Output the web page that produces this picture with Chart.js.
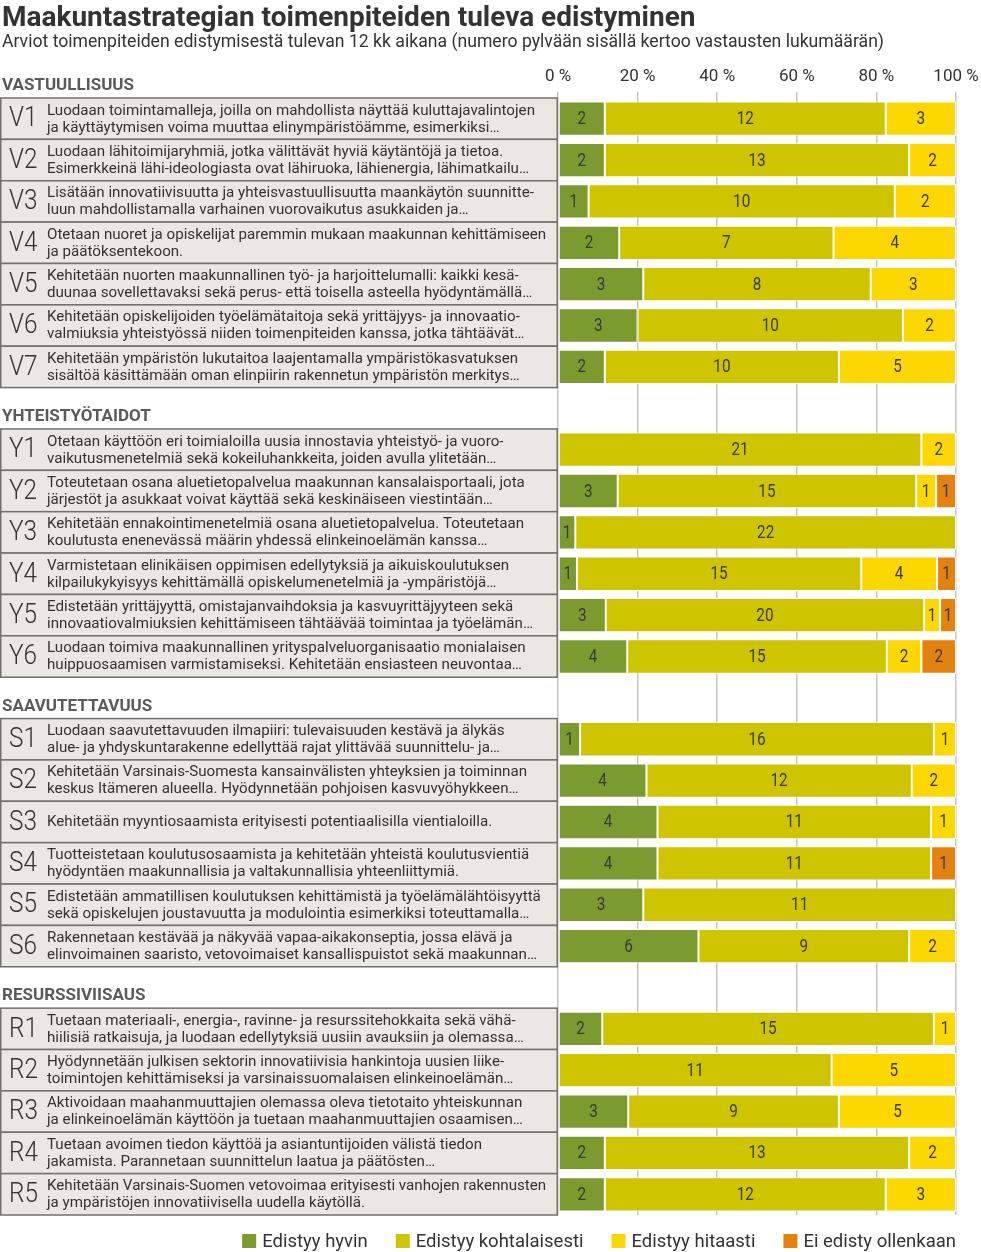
<!DOCTYPE html>
<html lang="fi">
<head>
<meta charset="utf-8">
<title>Maakuntastrategian toimenpiteiden tuleva edistyminen</title>
<script src="https://cdn.jsdelivr.net/npm/chart.js@4/dist/chart.umd.min.js"></script>
<style>
  html, body { margin: 0; padding: 0; background: #fff; }
  #wrap { width: 981px; height: 1252px; position: relative; }
</style>
</head>
<body>
<div id="wrap"><canvas id="chart"></canvas></div>
<script>
// otsikot
const title = 'Maakuntastrategian toimenpiteiden tuleva edistyminen';
const subtitle = 'Arviot toimenpiteiden edistymisestä tulevan 12 kk aikana (numero pylvään sisällä kertoo vastausten lukumäärän)';

// osiot ja niiden rivimäärät
const sections = ['VASTUULLISUUS', 'YHTEISTYÖTAIDOT', 'SAAVUTETTAVUUS', 'RESURSSIVIISAUS'];
const sectionSizes = [7, 6, 6, 5];

const codes = ['V1', 'V2', 'V3', 'V4', 'V5', 'V6', 'V7',
  'Y1', 'Y2', 'Y3', 'Y4', 'Y5', 'Y6',
  'S1', 'S2', 'S3', 'S4', 'S5', 'S6',
  'R1', 'R2', 'R3', 'R4', 'R5'];

const texts = [
  ['Luodaan toimintamalleja, joilla on mahdollista näyttää kuluttajavalintojen', 'ja käyttäytymisen voima muuttaa elinympäristöämme, esimerkiksi…'],
  ['Luodaan lähitoimijaryhmiä, jotka välittävät hyviä käytäntöjä ja tietoa.', 'Esimerkkeinä lähi-ideologiasta ovat lähiruoka, lähienergia, lähimatkailu…'],
  ['Lisätään innovatiivisuutta ja yhteisvastuullisuutta maankäytön suunnitte-', 'luun mahdollistamalla varhainen vuorovaikutus asukkaiden ja…'],
  ['Otetaan nuoret ja opiskelijat paremmin mukaan maakunnan kehittämiseen', 'ja päätöksentekoon.'],
  ['Kehitetään nuorten maakunnallinen työ- ja harjoittelumalli: kaikki kesä-', 'duunaa sovellettavaksi sekä perus- että toisella asteella hyödyntämällä…'],
  ['Kehitetään opiskelijoiden työelämätaitoja sekä yrittäjyys- ja innovaatio-', 'valmiuksia yhteistyössä niiden toimenpiteiden kanssa, jotka tähtäävät…'],
  ['Kehitetään ympäristön lukutaitoa laajentamalla ympäristökasvatuksen', 'sisältöä käsittämään oman elinpiirin rakennetun ympäristön merkitys…'],
  ['Otetaan käyttöön eri toimialoilla uusia innostavia yhteistyö- ja vuoro-', 'vaikutusmenetelmiä sekä kokeiluhankkeita, joiden avulla ylitetään…'],
  ['Toteutetaan osana aluetietopalvelua maakunnan kansalaisportaali, jota', 'järjestöt ja asukkaat voivat käyttää sekä keskinäiseen viestintään…'],
  ['Kehitetään ennakointimenetelmiä osana aluetietopalvelua. Toteutetaan', 'koulutusta enenevässä määrin yhdessä elinkeinoelämän kanssa…'],
  ['Varmistetaan elinikäisen oppimisen edellytyksiä ja aikuiskoulutuksen', 'kilpailukykyisyys kehittämällä opiskelumenetelmiä ja -ympäristöjä…'],
  ['Edistetään yrittäjyyttä, omistajanvaihdoksia ja kasvuyrittäjyyteen sekä', 'innovaatiovalmiuksien kehittämiseen tähtäävää toimintaa ja työelämän…'],
  ['Luodaan toimiva maakunnallinen yrityspalveluorganisaatio monialaisen', 'huippuosaamisen varmistamiseksi. Kehitetään ensiasteen neuvontaa…'],
  ['Luodaan saavutettavuuden ilmapiiri: tulevaisuuden kestävä ja älykäs', 'alue- ja yhdyskuntarakenne edellyttää rajat ylittävää suunnittelu- ja…'],
  ['Kehitetään Varsinais-Suomesta kansainvälisten yhteyksien ja toiminnan', 'keskus Itämeren alueella. Hyödynnetään pohjoisen kasvuvyöhykkeen…'],
  ['Kehitetään myyntiosaamista erityisesti potentiaalisilla vientialoilla.'],
  ['Tuotteistetaan koulutusosaamista ja kehitetään yhteistä koulutusvientiä', 'hyödyntäen maakunnallisia ja valtakunnallisia yhteenliittymiä.'],
  ['Edistetään ammatillisen koulutuksen kehittämistä ja työelämälähtöisyyttä', 'sekä opiskelujen joustavuutta ja modulointia esimerkiksi toteuttamalla…'],
  ['Rakennetaan kestävää ja näkyvää vapaa-aikakonseptia, jossa elävä ja', 'elinvoimainen saaristo, vetovoimaiset kansallispuistot sekä maakunnan…'],
  ['Tuetaan materiaali-, energia-, ravinne- ja resurssitehokkaita sekä vähä-', 'hiilisiä ratkaisuja, ja luodaan edellytyksiä uusiin avauksiin ja olemassa…'],
  ['Hyödynnetään julkisen sektorin innovatiivisia hankintoja uusien liike-', 'toimintojen kehittämiseksi ja varsinaissuomalaisen elinkeinoelämän…'],
  ['Aktivoidaan maahanmuuttajien olemassa oleva tietotaito yhteiskunnan', 'ja elinkeinoelämän käyttöön ja tuetaan maahanmuuttajien osaamisen…'],
  ['Tuetaan avoimen tiedon käyttöä ja asiantuntijoiden välistä tiedon', 'jakamista. Parannetaan suunnittelun laatua ja päätösten…'],
  ['Kehitetään Varsinais-Suomen vetovoimaa erityisesti vanhojen rakennusten', 'ja ympäristöjen innovatiivisella uudella käytöllä.']
];

// vastausten lukumäärät
const hyvin         = [2, 2, 1, 2, 3, 3, 2,  0, 3, 1, 1, 3, 4,  1, 4, 4, 4, 3, 6,  2, 0, 3, 2, 2];
const kohtalaisesti = [12, 13, 10, 7, 8, 10, 10,  21, 15, 22, 15, 20, 15,  16, 12, 11, 11, 11, 9,  15, 11, 9, 13, 12];
const hitaasti      = [3, 2, 2, 4, 3, 2, 5,  2, 1, 0, 4, 1, 2,  1, 2, 1, 0, 0, 2,  1, 5, 5, 2, 3];
const eiOllenkaan   = [0, 0, 0, 0, 0, 0, 0,  0, 1, 0, 1, 1, 2,  0, 0, 0, 1, 0, 0,  0, 0, 0, 0, 0];

const seriesNames = ['Edistyy hyvin', 'Edistyy kohtalaisesti', 'Edistyy hitaasti', 'Ei edisty ollenkaan'];
const seriesColors = ['#7b9a2f', '#cec500', '#fdd700', '#e4820f'];
const tickLabels = ['0 %', '20 %', '40 %', '60 %', '80 %', '100 %'];

// rivit: osioiden väliin tyhjä rivi otsikkoa varten
const rows = [];
let k = 0;
sectionSizes.forEach((n, s) => {
  if (s > 0) rows.push({ header: sections[s] });
  for (let j = 0; j < n; j++) { rows.push({ idx: k }); k++; }
});

const allCounts = [hyvin, kohtalaisesti, hitaasti, eiOllenkaan];
const total = i => hyvin[i] + kohtalaisesti[i] + hitaasti[i] + eiOllenkaan[i];

const datasets = allCounts.map((arr, d) => ({
  label: seriesNames[d],
  backgroundColor: seriesColors[d],
  borderColor: '#ffffff',
  borderWidth: 1,
  borderSkipped: false,
  counts: rows.map(r => r.header ? null : arr[r.idx]),
  data: rows.map(r => r.header ? null : (arr[r.idx] ? arr[r.idx] / total(r.idx) * 100 : null))
}));

const FONT = 'Roboto, "Open Sans", sans-serif';

// vasemman puolen laatikot, otsikot, osioiden nimet ja selite
const sideLabels = {
  id: 'sideLabels',
  afterDraw(chart) {
    const ctx = chart.ctx;
    const y = chart.scales.y;
    const area = chart.chartArea;
    const left = area.left;
    const half = (y.getPixelForValue(1) - y.getPixelForValue(0)) / 2;
    ctx.save();

    ctx.fillStyle = '#333';
    ctx.textBaseline = 'alphabetic';
    ctx.textAlign = 'left';
    ctx.font = 'bold 28px ' + FONT;
    ctx.fillText(title, 2, 26, 695);
    ctx.font = '18px ' + FONT;
    ctx.fillText(subtitle, 2, 47, 882);

    // kapeutus: kalibroitu V1:n ensimmäisen rivin leveyteen
    ctx.font = '15.5px ' + FONT;
    const squeeze = 488 / ctx.measureText(texts[0][0]).width;

    ctx.textBaseline = 'middle';
    ctx.font = 'bold 17px ' + FONT;
    ctx.fillStyle = '#5a5a5a';
    ctx.fillText(sections[0], 2, y.getPixelForValue(0) - half - 12);

    rows.forEach((r, i) => {
      const cy = y.getPixelForValue(i);
      if (r.header) {
        ctx.font = 'bold 17px ' + FONT;
        ctx.fillStyle = '#5a5a5a';
        ctx.fillText(r.header, 2, cy + half - 12);
        return;
      }
      ctx.fillStyle = '#e9e8e5';
      ctx.fillRect(0.75, cy - half, left - 1.5, half * 2);
      ctx.strokeStyle = '#707070';
      ctx.lineWidth = 1.5;
      ctx.strokeRect(0.75, cy - half, left - 1.5, half * 2);

      ctx.fillStyle = '#333';
      ctx.font = '300 27px ' + FONT;
      const c = codes[r.idx];
      ctx.fillText(c, 9, cy + 1, ctx.measureText(c).width * 0.9);

      ctx.font = '15.5px ' + FONT;
      const lines = texts[r.idx];
      const offs = lines.length === 1 ? [0] : [-8, 9];
      lines.forEach((t, li) => {
        ctx.fillText(t, 47, cy + offs[li], ctx.measureText(t).width * squeeze);
      });
    });

    // selite, tasattu oikeaan reunaan
    ctx.font = '18.5px ' + FONT;
    const ly = 1241, box = 14, gap = 6, spacing = 28;
    const widths = seriesNames.map(t => ctx.measureText(t).width);
    let lx = 956 - widths.reduce((a, w) => a + box + gap + w, 0) - spacing * (seriesNames.length - 1);
    seriesNames.forEach((t, i) => {
      ctx.fillStyle = seriesColors[i];
      ctx.fillRect(lx, ly - box / 2, box, box);
      ctx.fillStyle = '#333';
      ctx.fillText(t, lx + box + gap, ly + 1);
      lx += box + gap + widths[i] + spacing;
    });
    ctx.restore();
  }
};

// lukumäärät pylväiden sisään
const countLabels = {
  id: 'countLabels',
  afterDatasetsDraw(chart) {
    const ctx = chart.ctx;
    ctx.save();
    ctx.font = '18px ' + FONT;
    ctx.fillStyle = '#3a3a3a';
    ctx.textAlign = 'center';
    ctx.textBaseline = 'middle';
    chart.data.datasets.forEach((ds, d) => {
      chart.getDatasetMeta(d).data.forEach((bar, i) => {
        const v = ds.counts[i];
        if (!v) return;
        const p = bar.getCenterPoint();
        const s = String(v);
        ctx.fillText(s, p.x, p.y + 1, ctx.measureText(s).width * 0.85);
      });
    });
    ctx.restore();
  }
};

new Chart(document.getElementById('chart'), {
  type: 'bar',
  data: { labels: rows.map((r, i) => r.header ? 'h' + i : codes[r.idx]), datasets },
  plugins: [sideLabels, countLabels],
  options: {
    indexAxis: 'y',
    responsive: true,
    maintainAspectRatio: false,
    animation: false,
    layout: { padding: { top: 60, right: 25, bottom: 37, left: 0 } },
    datasets: { bar: { categoryPercentage: 1, barPercentage: 0.83 } },
    scales: {
      x: {
        position: 'top',
        stacked: true,
        min: 0,
        max: 100,
        afterFit: s => { s.height = 38; s.paddingRight = 0; s.paddingLeft = 0; },
        ticks: {
          stepSize: 20,
          color: '#333',
          font: { family: FONT, size: 17 },
          padding: 5,
          callback: v => tickLabels[v / 20]
        },
        grid: { color: '#c6c6c6', lineWidth: 1.5, tickLength: 6 },
        border: { display: false }
      },
      y: {
        stacked: true,
        afterFit: s => { s.width = 558; },
        ticks: { display: false },
        grid: { display: false },
        border: { display: false }
      }
    },
    plugins: {
      title: { display: false },
      tooltip: { enabled: false },
      legend: { display: false }
    }
  }
});
</script>
</body>
</html>
